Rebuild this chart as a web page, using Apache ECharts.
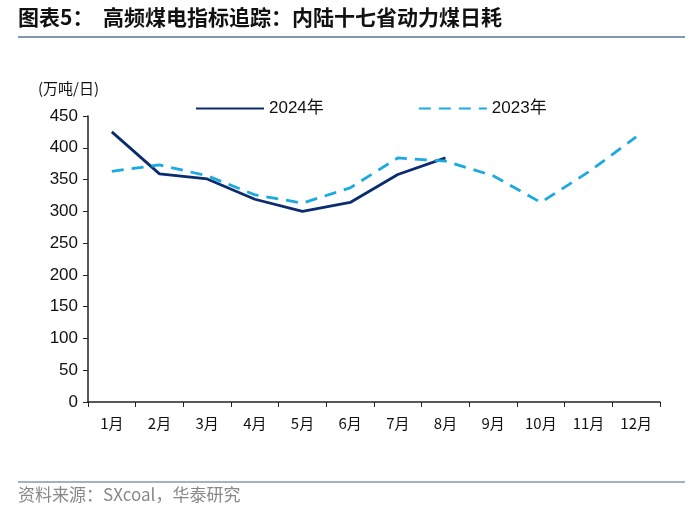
<!DOCTYPE html>
<html><head><meta charset="utf-8">
<script src="https://cdn.jsdelivr.net/npm/echarts@6/dist/echarts.min.js"></script>
<style>html,body{margin:0;padding:0;background:#fff;}#c{width:700px;height:514px;}</style>
</head><body><div id="c"></div>
<script>
const categories = ['1月','2月','3月','4月','5月','6月','7月','8月','9月','10月','11月','12月'];
const series2024 = [425, 359, 351, 319, 300, 314, 358, 384];
const series2023 = [363, 373, 356, 326, 313, 337, 384, 379, 356, 314, 362, 417];
const yTicks = [0, 50, 100, 150, 200, 250, 300, 350, 400, 450];
const titleText = '图表5：  高频煤电指标追踪：内陆十七省动力煤日耗';
const sourceText = '资料来源：SXcoal，华泰研究';
const unitText = '(万吨/日)';

const chart = echarts.init(document.getElementById('c'), null, {renderer:'canvas'});
chart.setOption({
  animation:false,
  backgroundColor:'#fff',
  graphic:[
    {type:'text', left:18, top:7, style:{text:titleText, font:'bold 21px "Noto Sans CJK SC"', fill:'#111'}},
    {type:'line', shape:{x1:18,y1:37,x2:685,y2:37}, style:{stroke:'#8497b0', lineWidth:2}},
    {type:'line', shape:{x1:18,y1:482,x2:685,y2:482}, style:{stroke:'#8497b0', lineWidth:1.5}},
    {type:'text', left:18, top:486, style:{text:sourceText, font:'17px "Noto Sans CJK SC"', fill:'#888'}},
    {type:'text', left:38, top:81, style:{text:unitText, font:'15px "Noto Sans CJK SC"', fill:'#111'}}
  ],
  legend:{
    top:95, left:190, itemGap:94, itemWidth:68, itemHeight:14,
    itemStyle:{color:'rgba(0,0,0,0)', borderWidth:0, opacity:0},
    textStyle:{fontSize:17, color:'#111', fontFamily:'"Liberation Sans","Noto Sans CJK SC"'},
    data:['2024年','2023年']
  },
  grid:{left:88, right:40, top:116, bottom:112, containLabel:false},
  xAxis:{
    type:'category', data:categories, boundaryGap:true,
    axisLine:{lineStyle:{color:'#222', width:1.5}},
    axisTick:{show:true, length:5, inside:false, lineStyle:{color:'#222'}},
    axisLabel:{fontSize:15, color:'#111', margin:14, fontFamily:'"Noto Sans CJK SC"'}
  },
  yAxis:{
    type:'value', min:0, max:450, interval:50,
    axisLine:{show:true, lineStyle:{color:'#222', width:1.5}},
    axisTick:{show:true, length:5, lineStyle:{color:'#222'}},
    splitLine:{show:false},
    axisLabel:{fontSize:17, color:'#111', margin:10, fontFamily:'"Liberation Sans"'}
  },
  series:[
    {name:'2024年', type:'line', data:series2024, symbol:'none',
     lineStyle:{color:'#0b2c6e', width:2.8}, itemStyle:{color:'#0b2c6e'}},
    {name:'2023年', type:'line', data:series2023, symbol:'none',
     lineStyle:{color:'#1ba9e1', width:2.8, type:[12,8]}, itemStyle:{color:'#1ba9e1'}}
  ]
});
</script></body></html>
